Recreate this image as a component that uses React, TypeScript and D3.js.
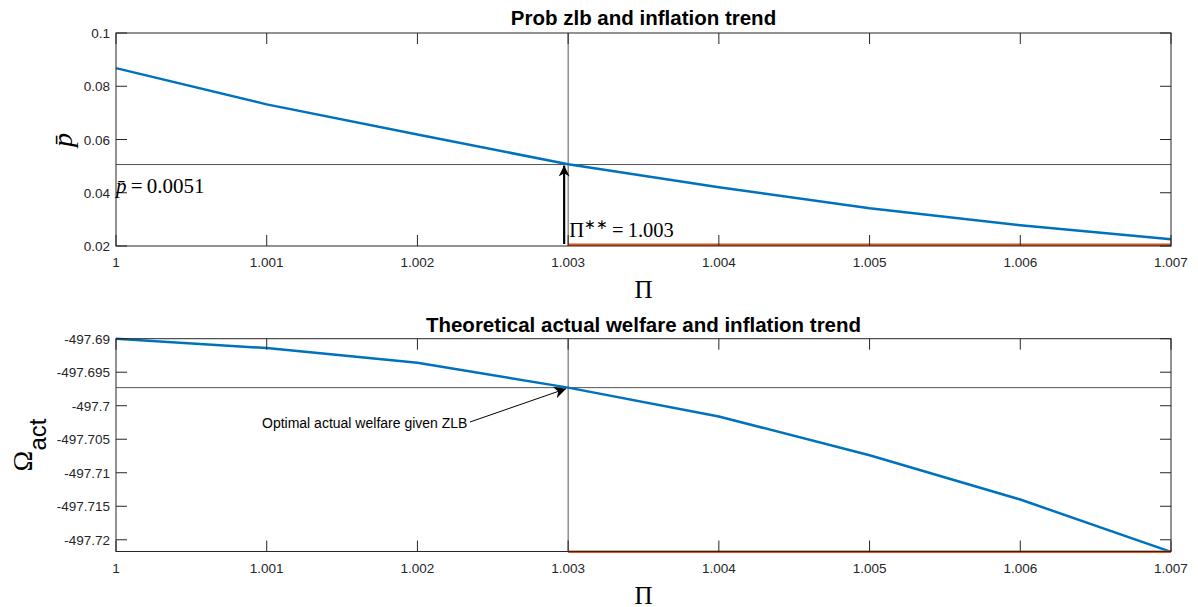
import React from "react";
import * as d3 from "d3";

const piGrid = [1, 1.001, 1.002, 1.003, 1.004, 1.005, 1.006, 1.007];
const probZlb = [0.0868, 0.0732, 0.0619, 0.0507, 0.0421, 0.0342, 0.0278, 0.0225];
const welfare = [-497.69, -497.6914, -497.6936, -497.6973, -497.7016, -497.7074, -497.714, -497.7218];
const piZlb = [1.003, 1.004, 1.005, 1.006, 1.007];
const probFloor = [0.0205, 0.0205, 0.0205, 0.0205, 0.0205];
const welfareFloor = [-497.7218, -497.7218, -497.7218, -497.7218, -497.7218];
const xTicks = [1, 1.001, 1.002, 1.003, 1.004, 1.005, 1.006, 1.007];
const yTicksTop = [0.02, 0.04, 0.06, 0.08, 0.1];
const yTicksBot = [-497.72, -497.715, -497.71, -497.705, -497.7, -497.695, -497.69];
const piStar = 1.003;
const pStar = 0.0506;
const welfareStar = -497.6973;

const BLUE = "#0072BD";
const ORANGE = "#D95319";
const AX = "#262626";
const SANS = "'Liberation Sans', Arial, Helvetica, sans-serif";
const SERIF = "'Liberation Serif', 'Times New Roman', serif";

const L = 116, R = 1171;
const fmt = (t: number) => String(+t.toFixed(4));

function Panel({ top, bottom, yDomain, yTicks, title, ys, floor, hY, titleGap }: any) {
  const x = d3.scaleLinear().domain([1, 1.007]).range([L, R]);
  const y = d3.scaleLinear().domain(yDomain).range([bottom, top]);
  const line = d3.line<number>().x((_, i) => x(piGrid[i])).y((d) => y(d));
  const lineF = d3.line<number>().x((_, i) => x(piZlb[i])).y((d) => y(d));
  const tl = 11;
  return (
    <g>
      <text x={(L + R) / 2} y={top - titleGap} textAnchor="middle" fontFamily={SANS} fontWeight="bold" fontSize={20.5} fill="#000">{title}</text>
      <line x1={L} x2={R} y1={y(hY)} y2={y(hY)} stroke="#555" strokeWidth={1} />
      <line x1={x(piStar)} x2={x(piStar)} y1={top} y2={bottom} stroke="#555" strokeWidth={1} />
      <path d={line(ys) || ""} fill="none" stroke={BLUE} strokeWidth={2.5} />
      <path d={lineF(floor) || ""} fill="none" stroke={ORANGE} strokeWidth={2.5} />
      <rect x={L} y={top} width={R - L} height={bottom - top} fill="none" stroke={AX} strokeWidth={1} />
      {xTicks.map((t) => (
        <g key={"x" + t}>
          <line x1={x(t)} x2={x(t)} y1={bottom} y2={bottom - tl} stroke={AX} />
          <line x1={x(t)} x2={x(t)} y1={top} y2={top + tl} stroke={AX} />
          <text x={x(t)} y={bottom + 21} textAnchor="middle" fontFamily={SANS} fontSize={13.5} fill={AX}>{fmt(t)}</text>
        </g>
      ))}
      {yTicks.map((t: number) => (
        <g key={"y" + t}>
          <line x1={L} x2={L + tl} y1={y(t)} y2={y(t)} stroke={AX} />
          <line x1={R} x2={R - tl} y1={y(t)} y2={y(t)} stroke={AX} />
          <text x={L - 6} y={y(t) + 5} textAnchor="end" fontFamily={SANS} fontSize={13.5} fill={AX}>{fmt(t)}</text>
        </g>
      ))}
      <text x={(L + R) / 2} y={bottom + 52} textAnchor="middle" fontFamily={SERIF} fontSize={25} fill="#000">Π</text>
    </g>
  );
}

export default function App() {
  const x = d3.scaleLinear().domain([1, 1.007]).range([L, R]);
  const yT = d3.scaleLinear().domain([0.02, 0.1]).range([246, 33]);
  const yB = d3.scaleLinear().domain([-497.72175, -497.69]).range([551.5, 338.7]);
  const ax = x(piStar) - 4;
  return (
    <svg width={1198} height={607} style={{ position: "absolute", left: 0, top: 0 }}>
      <defs>
        <marker id="ahT" viewBox="0 0 10 10" refX={10} refY={5} markerWidth={5} markerHeight={5} orient="auto" markerUnits="strokeWidth">
          <path d="M0,0 L10,5 L0,10 L3,5 z" fill="#000" />
        </marker>
        <marker id="ahB" viewBox="0 0 10 10" refX={10} refY={5} markerWidth={12} markerHeight={12} orient="auto" markerUnits="strokeWidth">
          <path d="M0,0 L10,5 L0,10 L3,5 z" fill="#000" />
        </marker>
      </defs>
      <rect width={1198} height={607} fill="#fff" />
      <Panel top={33} bottom={246} yDomain={[0.02, 0.1]} yTicks={yTicksTop}
        title="Prob zlb and inflation trend" ys={probZlb} floor={probFloor} hY={pStar} titleGap={8} />
      <Panel top={338.7} bottom={551.5} yDomain={[-497.72175, -497.69]} yTicks={yTicksBot}
        title="Theoretical actual welfare and inflation trend" ys={welfare} floor={welfareFloor} hY={welfareStar} titleGap={7} />

      {/* top annotations */}
      <line x1={ax} x2={ax} y1={244} y2={yT(pStar) + 1} stroke="#000" strokeWidth={2.2} markerEnd="url(#ahT)" />
      <text x={x(piStar) + 1} y={237} fontFamily={SERIF} fontSize={20.5} fill="#000">
        Π<tspan fontSize={14} dy={-8}>∗∗</tspan><tspan dy={8}>{"\u2009=\u20091.003"}</tspan>
      </text>
      <text x={116} y={193} fontFamily={SERIF} fontSize={21} fill="#000">
        <tspan fontStyle="italic">p̄</tspan>{"\u2009=\u20090.0051"}
      </text>
      <text transform="translate(72,140) rotate(-90)" textAnchor="middle" fontFamily={SERIF} fontStyle="italic" fontSize={28} fill="#000">p̄</text>

      {/* bottom annotations */}
      <text x={262} y={428} fontFamily={SANS} fontSize={14} fill="#000">Optimal actual welfare given ZLB</text>
      <line x1={470} y1={422} x2={x(piStar) - 2} y2={yB(welfareStar) + 1} stroke="#000" strokeWidth={1} markerEnd="url(#ahB)" />
      <text transform="translate(32,445) rotate(-90)" textAnchor="middle" fill="#000">
        <tspan fontFamily={SERIF} fontSize={28}>Ω</tspan>
        <tspan fontFamily={SANS} fontSize={24} dy={14}>act</tspan>
      </text>
    </svg>
  );
}
